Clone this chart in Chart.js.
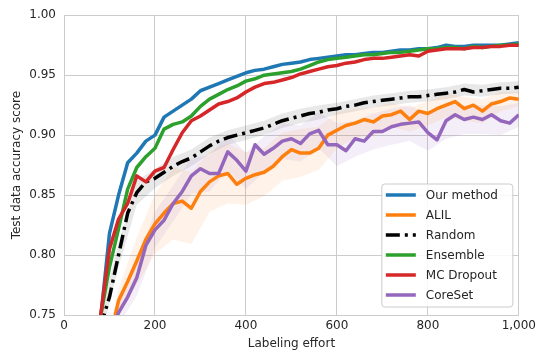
<!DOCTYPE html>
<html lang="en">
<head>
    <meta charset="UTF-8">
    <title>Labeling effort vs accuracy</title>
    <script src="https://cdn.jsdelivr.net/npm/chart.js@4.4.1/dist/chart.umd.min.js"></script>
    <style>
        html, body { margin: 0; padding: 0; background: #ffffff; }
        #wrap { width: 540px; height: 351px; position: relative; }
    </style>
</head>
<body>
    <div id="wrap"><canvas id="grafico"></canvas></div>
    <script>
        // eixo x: esforco de rotulagem (passo 20)
        const effort = [80, 100, 120, 140, 160, 180, 200, 220, 240, 260, 280, 300, 320, 340, 360, 380, 400, 420, 440, 460,
            480, 500, 520, 540, 560, 580, 600, 620, 640, 660, 680, 700, 720, 740, 760, 780, 800, 820, 840, 860,
            880, 900, 920, 940, 960, 980, 1000];

        const ourMethod = [0.745, 0.818, 0.850, 0.877, 0.885, 0.895, 0.900, 0.915, 0.920, 0.925, 0.930, 0.937, 0.940, 0.943, 0.946, 0.949, 0.952, 0.954, 0.955, 0.957,
            0.959, 0.960, 0.961, 0.963, 0.964, 0.965, 0.966, 0.967, 0.967, 0.968, 0.969, 0.969, 0.970, 0.971, 0.971, 0.972, 0.972, 0.973, 0.975, 0.974,
            0.974, 0.975, 0.975, 0.975, 0.975, 0.976, 0.977];
        const alil = [0.700, 0.730, 0.762, 0.778, 0.795, 0.813, 0.826, 0.835, 0.843, 0.845, 0.839, 0.853, 0.861, 0.866, 0.868, 0.859, 0.864, 0.867, 0.869, 0.874,
            0.882, 0.888, 0.885, 0.885, 0.889, 0.900, 0.904, 0.908, 0.910, 0.913, 0.911, 0.916, 0.917, 0.920, 0.913, 0.920, 0.918, 0.922, 0.925, 0.928,
            0.922, 0.925, 0.920, 0.926, 0.928, 0.931, 0.930];
        const random = [0.740, 0.765, 0.800, 0.835, 0.852, 0.861, 0.864, 0.869, 0.874, 0.878, 0.881, 0.886, 0.891, 0.895, 0.898, 0.900, 0.902, 0.904, 0.906, 0.909,
            0.912, 0.914, 0.916, 0.918, 0.919, 0.921, 0.922, 0.924, 0.925, 0.927, 0.928, 0.929, 0.930, 0.931, 0.932, 0.932, 0.933, 0.934, 0.935, 0.936,
            0.938, 0.936, 0.937, 0.938, 0.939, 0.939, 0.940];
        const ensemble = [0.748, 0.790, 0.822, 0.855, 0.873, 0.882, 0.889, 0.905, 0.909, 0.911, 0.916, 0.924, 0.930, 0.934, 0.938, 0.941, 0.945, 0.947, 0.950, 0.951,
            0.952, 0.953, 0.955, 0.958, 0.961, 0.963, 0.964, 0.965, 0.966, 0.967, 0.967, 0.968, 0.969, 0.969, 0.970, 0.971, 0.972, 0.972, 0.973, 0.973,
            0.972, 0.974, 0.973, 0.974, 0.975, 0.975, 0.976];
        const mcDropout = [0.748, 0.805, 0.830, 0.843, 0.866, 0.861, 0.870, 0.873, 0.888, 0.902, 0.912, 0.916, 0.921, 0.926, 0.928, 0.931, 0.936, 0.940, 0.943, 0.944,
            0.946, 0.948, 0.951, 0.953, 0.955, 0.957, 0.958, 0.960, 0.961, 0.963, 0.964, 0.964, 0.965, 0.966, 0.967, 0.966, 0.970, 0.971, 0.972, 0.972,
            0.972, 0.973, 0.973, 0.974, 0.974, 0.975, 0.975];
        const coreSet = [0.700, 0.730, 0.752, 0.765, 0.781, 0.808, 0.821, 0.829, 0.843, 0.853, 0.866, 0.872, 0.868, 0.868, 0.886, 0.879, 0.870, 0.892, 0.884, 0.889,
            0.895, 0.897, 0.893, 0.901, 0.904, 0.892, 0.892, 0.887, 0.897, 0.895, 0.903, 0.903, 0.907, 0.909, 0.910, 0.911, 0.902, 0.896, 0.912, 0.917,
            0.913, 0.915, 0.913, 0.917, 0.912, 0.910, 0.917];

        // meia-largura das faixas sombreadas, a cada 40 (80, 120, ..., 1000)
        const alilSpread = [0, 0.010, 0.020, 0.025, 0.030, 0.030, 0.025, 0.025, 0.022, 0.020, 0.020, 0.020, 0.018, 0.015, 0.012, 0.012,
            0.010, 0.010, 0.010, 0.010, 0.010, 0.010, 0.008, 0.006];
        const coreSetSpread = [0, 0.010, 0.015, 0.015, 0.015, 0.015, 0.015, 0.015, 0.015, 0.015, 0.015, 0.015, 0.015, 0.018, 0.015, 0.015,
            0.015, 0.015, 0.015, 0.015, 0.012, 0.012, 0.012, 0.010];
        const randomSpread = [0.010, 0.010, 0.010, 0.008, 0.008, 0.007, 0.007, 0.006, 0.006, 0.006, 0.006, 0.006, 0.006, 0.005, 0.005, 0.005,
            0.005, 0.005, 0.005, 0.005, 0.005, 0.005, 0.005, 0.005];

        const yTicks = [0.75, 0.80, 0.85, 0.90, 0.95, 1.00];
        const xTicks = [0, 200, 400, 600, 800, 1000];

        function pts(ys) {
            return effort.map((x, i) => ({ x: x, y: ys[i] }));
        }

        function band(ys, spread, sign) {
            const out = [];
            spread.forEach((s, k) => {
                const i = k * 2;
                out.push({ x: effort[i], y: ys[i] + sign * s });
            });
            return out;
        }

        const series = [
            { label: 'Our method', data: ourMethod, color: '#1f77b4' },
            { label: 'ALIL', data: alil, color: '#ff7f0e' },
            { label: 'Random', data: random, color: '#000000', dash: [14, 5, 3, 5] },
            { label: 'Ensemble', data: ensemble, color: '#2ca02c' },
            { label: 'MC Dropout', data: mcDropout, color: '#d62728' },
            { label: 'CoreSet', data: coreSet, color: '#9467bd' }
        ];

        const datasets = [];

        function addBand(ys, spread, fillColor) {
            datasets.push({
                isBand: true, data: band(ys, spread, -1), borderWidth: 0, pointRadius: 0,
                backgroundColor: fillColor, fill: '+1', order: 20
            });
            datasets.push({
                isBand: true, data: band(ys, spread, 1), borderWidth: 0, pointRadius: 0,
                fill: false, order: 20
            });
        }
        addBand(alil, alilSpread, 'rgba(255, 127, 14, 0.09)');
        addBand(coreSet, coreSetSpread, 'rgba(148, 103, 189, 0.11)');
        addBand(random, randomSpread, 'rgba(0, 0, 0, 0.09)');

        series.forEach((s, i) => {
            datasets.push({
                label: s.label,
                data: pts(s.data),
                borderColor: s.color,
                backgroundColor: s.color,
                borderWidth: 3.5,
                borderDash: s.dash || [],
                borderJoinStyle: 'round',
                borderCapStyle: 'butt',
                pointRadius: 0,
                tension: 0,
                fill: false,
                order: series.length - i
            });
        });

        // legenda dentro da area do grafico, canto inferior direito
        const legendaInterna = {
            id: 'legendaInterna',
            afterDraw(chart) {
                const ctx = chart.ctx;
                const area = chart.chartArea;
                const w = 131, h = 123;
                const x0 = area.right - 6 - w;
                const y0 = area.bottom - 8 - h;
                ctx.save();
                ctx.beginPath();
                ctx.roundRect(x0, y0, w, h, 3);
                ctx.fillStyle = 'rgba(255,255,255,0.85)';
                ctx.fill();
                ctx.strokeStyle = '#cccccc';
                ctx.lineWidth = 1;
                ctx.stroke();
                ctx.font = '12px "DejaVu Sans"';
                ctx.textBaseline = 'middle';
                series.forEach((s, i) => {
                    const y = y0 + 11 + i * 20;
                    ctx.beginPath();
                    ctx.setLineDash(s.dash || []);
                    ctx.strokeStyle = s.color;
                    ctx.lineWidth = 3.5;
                    ctx.moveTo(x0 + 4, y);
                    ctx.lineTo(x0 + 34, y);
                    ctx.stroke();
                    ctx.setLineDash([]);
                    ctx.fillStyle = '#262626';
                    ctx.fillText(s.label, x0 + 44, y + 0.5);
                });
                ctx.restore();
            }
        };

        Chart.defaults.font.family = '"DejaVu Sans", sans-serif';
        Chart.defaults.font.size = 12;
        Chart.defaults.color = '#262626';

        new Chart(document.getElementById('grafico'), {
            type: 'line',
            data: { datasets: datasets },
            options: {
                responsive: true,
                maintainAspectRatio: false,
                animation: false,
                layout: { padding: { top: 13, right: 19, left: 10, bottom: 0 } },
                plugins: {
                    legend: { display: false },
                    tooltip: { enabled: false }
                },
                scales: {
                    x: {
                        type: 'linear',
                        min: 0,
                        max: 1000,
                        afterBuildTicks(scale) { scale.ticks = xTicks.map(v => ({ value: v })); },
                        afterFit(scale) { scale.height = 36; },
                        grid: { color: '#cccccc', lineWidth: 1, drawTicks: false },
                        border: { color: '#cccccc' },
                        ticks: { padding: 4, color: '#262626', maxRotation: 0 },
                        title: { display: true, text: 'Labeling effort', color: '#262626', padding: { top: 0, bottom: 0 } }
                    },
                    y: {
                        min: 0.75,
                        max: 1.0,
                        afterBuildTicks(scale) { scale.ticks = yTicks.map(v => ({ value: v })); },
                        afterFit(scale) { scale.width = 54; },
                        grid: { color: '#cccccc', lineWidth: 1, drawTicks: false },
                        border: { color: '#cccccc' },
                        ticks: { padding: 8, color: '#262626', callback: v => v.toFixed(2) },
                        title: { display: true, text: 'Test data accuracy score', color: '#262626', padding: { top: 0, bottom: 4 } }
                    }
                }
            },
            plugins: [legendaInterna]
        });
    </script>
</body>
</html>
